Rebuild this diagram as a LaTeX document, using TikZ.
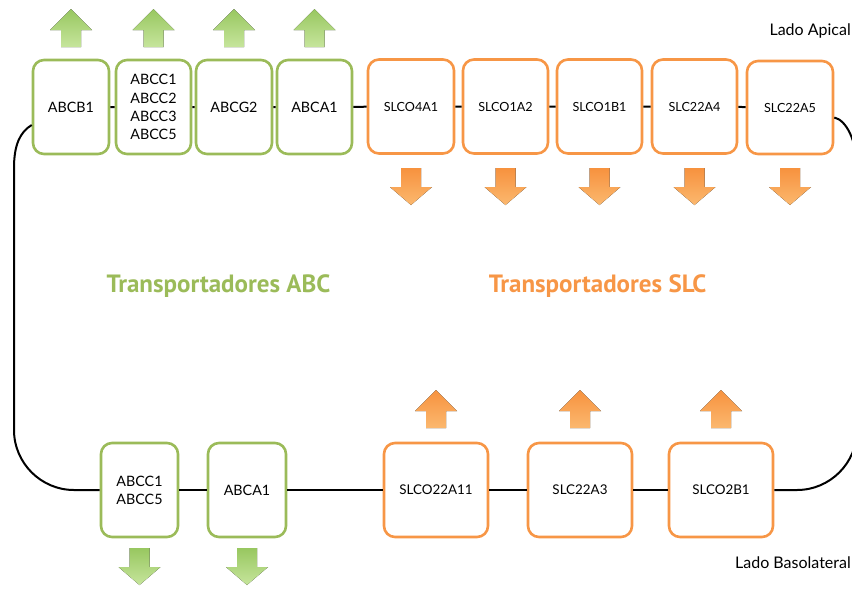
\documentclass[tikz,border=0pt]{standalone}
\usepackage{fontspec}
\setmainfont{Lato}
\newfontfamily\titlefont{PT Sans}
\usetikzlibrary{calc,shadows}
\definecolor{abcgreen}{HTML}{9BBB59}
\definecolor{slcorange}{HTML}{F79646}
\definecolor{gtop}{HTML}{98C760}
\definecolor{gbot}{HTML}{C6E59C}
\definecolor{otop}{HTML}{F7923E}
\definecolor{obot}{HTML}{FBB86F}
\begin{document}
\begin{tikzpicture}[x=1pt,y=-1pt,
  box/.style={draw, line width=2.6pt, rounded corners=11pt, fill=white, align=center,
    inner sep=0pt, minimum height=94pt, font=\fontsize{14.3}{18.2}\selectfont},
  abc/.style={box, draw=abcgreen, minimum width=76pt},
  slc/.style={box, draw=slcorange, minimum width=85pt, font=\fontsize{12.6}{15}\selectfont},
  slcb/.style={box, draw=slcorange, minimum width=104pt, font=\fontsize{13.4}{16}\selectfont},
  link/.style={line width=2pt, black},
  title/.style={font=\titlefont\bfseries\fontsize{25}{30}\selectfont},
  side/.style={font=\fontsize{16}{18}\selectfont, anchor=east, inner sep=0pt},
  ashadow/.style={drop shadow={opacity=0.2, shadow xshift=0pt, shadow yshift=-2pt}},
  uparr/.pic={\fill[pic actions] (-10,0) -- (10,0) -- (10,-17) -- (21,-17) -- (0,-38) -- (-21,-17) -- (-10,-17) -- cycle;},
  downarr/.pic={\fill[pic actions] (-10,0) -- (10,0) -- (10,19) -- (21,19) -- (0,37) -- (-21,19) -- (-10,19) -- cycle;},
  garrow/.style={top color=gtop, bottom color=gbot, ashadow},
  oarrow/.style={top color=otop, bottom color=obot, ashadow}]
\useasboundingbox (0,0) rectangle (852,590);

% apical side
\node[side] (apical) at (851,31) {Lado Apical};
\node[abc] (abcb1) at (71,107) {ABCB1};
\node[abc, minimum width=75pt] (abcc) at (153.5,107) {ABCC1\\ABCC2\\ABCC3\\ABCC5};
\node[abc] (abcg2) at (234,107) {ABCG2};
\node[abc, minimum width=75pt] (abca1) at (314.5,107) {ABCA1};
\node[slc, minimum width=86pt] (slco4a1) at (411,106.5) {SLCO4A1};
\node[slc] (slco1a2) at (505.5,106.5) {SLCO1A2};
\node[slc] (slco1b1) at (599.5,106.5) {SLCO1B1};
\node[slc] (slc22a4) at (694.5,106.5) {SLC22A4};
\node[slc, minimum width=86pt, minimum height=93pt] (slc22a5) at (790,107.5) {SLC22A5};

% basolateral side
\node[abc, minimum width=77pt] (abcc15) at (139.5,490) {ABCC1\\ABCC5};
\node[abc, minimum width=78pt] (abca1b) at (247,490) {ABCA1};
\node[slcb] (slco22a11) at (436,490) {SLCO22A11};
\node[slcb] (slc22a3) at (580,490) {SLC22A3};
\node[slcb] (slco2b1) at (721,490) {SLCO2B1};
\node[side] (baso) at (851,563) {Lado Basolateral};

% family titles
\node[title, text=abcgreen] (tabc) at (218.5,286) {Transportadores ABC};
\node[title, text=slcorange] (tslc) at (597.5,286) {Transportadores SLC};

% membrane links
\draw[link] (abcb1) -- (abcc) -- (abcg2) -- (abca1) -- (slco4a1) -- (slco1a2)
  -- (slco1b1) -- (slc22a4) -- (slc22a5);
\draw[link] (abcc15) -- (abca1b) -- (slco22a11) -- (slc22a3) -- (slco2b1);
\coordinate (lt) at ($(abcb1.west)+(0,18)$);
\coordinate (rt) at ($(slc22a5.east)+(0,10)$);
\draw[link] (lt) .. controls (20,132) and (14,145) .. (14,168) -- (14,430)
  .. controls (14,463) and (41,490) .. (74,490) -- (abcc15.west);
\draw[link] (slco2b1.east) -- (797,490) .. controls (830,490) and (857,463) .. (857,430)
  -- (857,170) .. controls (857,140) and (846,120) .. (rt);

% transport direction arrows
\foreach \x in {71,153.5,234,314.5} \path (\x,47) pic[garrow]{uparr};
\foreach \x in {411,505.5,599.5,694.5,790} \path (\x,168) pic[oarrow]{downarr};
\foreach \x in {436,580,721} \path (\x,428) pic[oarrow]{uparr};
\foreach \x in {139.5,247} \path (\x,548) pic[garrow]{downarr};
\end{tikzpicture}
\end{document}
